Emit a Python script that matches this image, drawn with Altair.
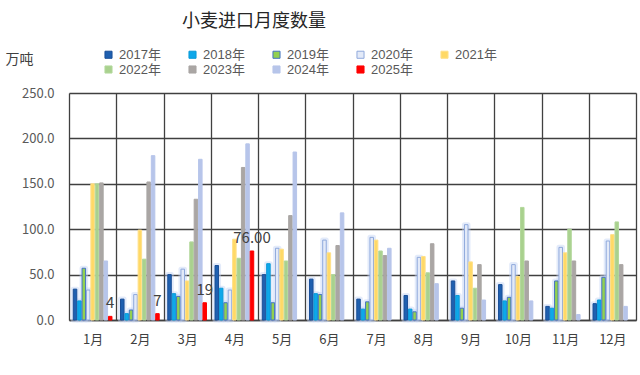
import altair as alt
import pandas as pd

title_text = "小麦进口月度数量"
months = ["1月", "2月", "3月", "4月", "5月", "6月", "7月", "8月", "9月", "10月", "11月", "12月"]
years = ["2017年", "2018年", "2019年", "2020年", "2021年", "2022年", "2023年", "2024年", "2025年"]

v2017 = [34, 23, 50, 60, 50, 45, 23, 27, 43, 39, 15, 18]
v2018 = [21, 7, 29, 35, 62, 29, 12, 12, 27, 21, 13, 22]
v2019 = [57, 11, 26, 19, 19, 28, 20, 9, 13, 25, 43, 47]
v2020 = [33, 28, 56, 33, 79, 88, 91, 69, 105, 61, 80, 87]
v2021 = [150, 99, 43, 89, 78, 74, 88, 70, 64, 48, 74, 94]
v2022 = [150, 67, 86, 68, 65, 50, 76, 52, 35, 124, 100, 108]
v2023 = [151, 152, 133, 168, 115, 82, 71, 84, 61, 65, 65, 61]
v2024 = [65, 181, 177, 194, 185, 118, 79, 40, 22, 21, 6, 15]
v2025 = [4, 7, 19, 76]
labels2025 = ["4", "7", "19", "76.00"]

series = [v2017, v2018, v2019, v2020, v2021, v2022, v2023, v2024, v2025]

fill_colors = ["#1f60b0", "#0ea8ea", "#92d050", "#e3eaf8", "#ffd966",
               "#a9d18e", "#aaa6a4", "#b7c5ea", "#ff0000"]
stroke_colors = ["#1a4f98", "#0a9ad8", "#4472c4", "#8fa9dc", "#ffe08a",
                 "#b3d89c", "#aaa6a4", "#b7c5ea", "#ff0000"]

rows = []
for yr, vals in zip(years, series):
    for m, v in zip(months, vals):
        rows.append({"month": m, "year": yr, "value": v})
df = pd.DataFrame(rows)

lab_df = pd.DataFrame({"month": months[:4], "year": ["2025年"] * 4,
                       "value": v2025, "label": labels2025})

grid_col = "#404040"
font = "Noto Sans CJK SC"
legend_font = "Liberation Sans, Noto Sans CJK SC"

x_enc = alt.X("month:N", sort=months,
              scale=alt.Scale(domain=months, paddingInner=0, paddingOuter=0),
              axis=alt.Axis(title=None, tickBand="extent", grid=True,
                            gridColor=grid_col, gridWidth=1.3, ticks=False,
                            domainColor=grid_col, domainWidth=1.5,
                            labelAngle=0, labelFontSize=13, labelColor="#404040",
                            labelPadding=13, labelFont=font))
xo_enc = alt.XOffset("year:N", sort=years,
                     scale=alt.Scale(domain=years, paddingInner=0.2, paddingOuter=0.97))
y_enc = alt.Y("value:Q", scale=alt.Scale(domain=[0, 250], nice=False),
              axis=alt.Axis(values=[0, 50, 100, 150, 200, 250], format=".1f",
                            grid=True, gridColor=grid_col, gridWidth=1.3,
                            ticks=False, domain=False, labelFontSize=13,
                            labelColor="#595959", labelPadding=15, labelFont=font,
                            title="万吨", titleAngle=0, titleX=-64, titleY=-34,
                            titleAlign="left", titleBaseline="middle",
                            titleFontSize=14, titleFontWeight="normal",
                            titleColor="#404040", titleFont=font))

legend_kw = dict(orient="none", legendX=33, legendY=-45, columns=5,
                 direction="horizontal", columnPadding=25, rowPadding=1,
                 title=None, symbolType="square",
                 symbolSize=50, symbolStrokeWidth=1, labelFontSize=13,
                 labelColor="#595959", labelFont=legend_font, labelOffset=4, padding=0)

base = alt.Chart(df)

glow = base.transform_filter(
    alt.FieldOneOfPredicate(field="year", oneOf=years[:4])
).mark_bar(fill="#c3d3f6", stroke="#c3d3f6", strokeWidth=5, opacity=0.45,
           strokeJoin="round").encode(x=x_enc, xOffset=xo_enc, y=y_enc)

bars = base.mark_bar(strokeWidth=1).encode(
    x=x_enc, xOffset=xo_enc, y=y_enc,
    fill=alt.Fill("year:N", sort=years,
                  scale=alt.Scale(domain=years, range=fill_colors),
                  legend=alt.Legend(**legend_kw)),
    stroke=alt.Stroke("year:N", sort=years,
                      scale=alt.Scale(domain=years, range=stroke_colors),
                      legend=alt.Legend(**legend_kw)),
)

text = alt.Chart(lab_df).mark_text(baseline="bottom", dy=-5, fontSize=15,
                                    color="#404040", font=font).encode(
    x=x_enc, xOffset=xo_enc, y=y_enc, text="label:N")

title = alt.Chart(pd.DataFrame({"t": [title_text]})).mark_text(
    fontSize=18, font=font, color="#262626", baseline="middle", align="center"
).encode(x=alt.value(185), y=alt.value(-71), text="t:N")

chart = alt.layer(glow, bars, text, title).properties(
    width=567, height=227,
    autosize=alt.AutoSizeParams(type="none"),
    padding={"left": 69, "top": 93, "right": 4, "bottom": 55},
).configure_view(stroke=grid_col, strokeWidth=1.3).configure(background="white")

chart.save("out.html", embed_options={"renderer": "svg", "actions": False})
